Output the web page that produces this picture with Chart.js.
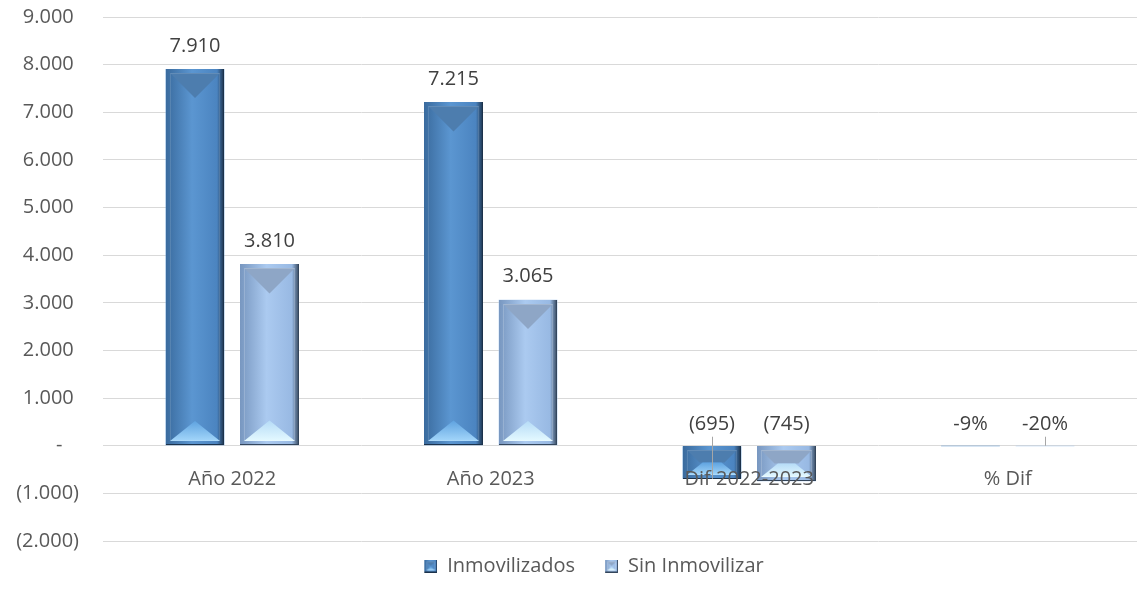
<!DOCTYPE html>
<html lang="es">
<head>
<meta charset="utf-8">
<title>Inmovilizados / Sin Inmovilizar</title>
<script src="https://cdn.jsdelivr.net/npm/chart.js@4.4.1/dist/chart.umd.min.js"></script>
<style>
  html, body { margin: 0; padding: 0; background: #fff; }
  #grafico { display: block; }
</style>
</head>
<body>
<canvas id="grafico" width="1137" height="608"></canvas>
<script>
// datos
var categorias = ['Año 2022', 'Año 2023', 'Dif 2022-2023', '% Dif'];
var inmovilizados = [7910, 7215, -695, -0.09];
var sinInmovilizar = [3810, 3065, -745, -0.20];
var ejeMin = -2000, ejeMax = 9000, ejePaso = 1000;

var fuente = "'Open Sans', 'Noto Sans', sans-serif";
var gris = '#595959';
var tam = 20;

// colores de cada serie (relleno biselado)
var paletas = [
  { izq: '#3a6b9e', centro: '#5b96d1', der: '#4b84c0', sombra: '#1c324b', arriba: '#4d7dae', abajo1: '#5fa3e0', abajo2: '#a3d6fa', marco: 'rgba(255,255,255,0.12)' },
  { izq: '#7897c0', centro: '#abcaf0', der: '#98b9e3', sombra: '#34465c', arriba: '#8ea6c6', abajo1: '#b6dcf7', abajo2: '#e4f9ff', marco: 'rgba(255,255,255,0.18)' }
];

// número con punto de miles y negativos entre paréntesis
function miles(v) {
  var s = String(Math.round(Math.abs(v))).replace(/\B(?=(\d{3})+(?!\d))/g, '.');
  return v < 0 ? '(' + s + ')' : s;
}

function etiquetaValor(v, i) {
  if (categorias[i] === '% Dif') return Math.round(v * 100) + '%';
  return miles(v);
}

// dibuja una barra con bisel (triángulo oscuro arriba, claro abajo)
function dibujarBarra(ctx, l, t, r, b, p, f) {
  var w = r - l, h = b - t;
  ctx.save();
  var g = ctx.createLinearGradient(l, 0, r, 0);
  g.addColorStop(0, p.izq);
  g.addColorStop(0.45, p.centro);
  g.addColorStop(0.88, p.der);
  g.addColorStop(1, p.sombra);
  ctx.fillStyle = g;
  ctx.fillRect(l, t, w, h);

  var il = l + f, ir = r - f, it = t + f, ib = b - f;
  var mitad = (ir - il) / 2;
  var alto = (ib - it) / 2;
  if (mitad > 0 && alto > 0) {
    // bisel superior
    var dy = Math.min(mitad, alto), dx = dy;
    ctx.beginPath();
    ctx.moveTo(il, it);
    ctx.lineTo(ir, it);
    ctx.lineTo(ir - dx, it + dy);
    ctx.lineTo(il + dx, it + dy);
    ctx.closePath();
    ctx.fillStyle = p.arriba;
    ctx.fill();
    // bisel inferior
    var by = Math.min(mitad * 0.8, alto), bx = by / 0.8;
    var gb = ctx.createLinearGradient(0, ib - by, 0, ib);
    gb.addColorStop(0, p.abajo1);
    gb.addColorStop(1, p.abajo2);
    ctx.beginPath();
    ctx.moveTo(il, ib);
    ctx.lineTo(ir, ib);
    ctx.lineTo(ir - bx, ib - by);
    ctx.lineTo(il + bx, ib - by);
    ctx.closePath();
    ctx.fillStyle = gb;
    ctx.fill();
  }
  // marco interior y borde oscuro
  ctx.strokeStyle = p.marco;
  ctx.lineWidth = 1;
  ctx.strokeRect(il + 0.5, it + 0.5, ir - il - 1, ib - it - 1);
  ctx.strokeStyle = p.sombra;
  ctx.beginPath();
  ctx.moveTo(r - 0.5, t);
  ctx.lineTo(r - 0.5, b - 0.5);
  ctx.lineTo(l, b - 0.5);
  ctx.stroke();
  ctx.restore();
}

// marcadores de la leyenda
function marcador(p) {
  var c = document.createElement('canvas');
  c.width = 28; c.height = 13;
  dibujarBarra(c.getContext('2d'), 15, 0, 28, 13, p, 2);
  return c;
}
var marcadores = paletas.map(marcador);

// líneas guía desde la etiqueta hasta la barra
var guias = [{ serie: 0, indice: 2 }, { serie: 1, indice: 3 }];

var barrasPlugin = {
  id: 'barrasBiseladas',
  // la leyenda va algo desplazada a la derecha
  afterLayout: function(chart) {
    if (chart.legend) {
      chart.legend.left += 15;
      chart.legend.right += 15;
    }
  },
  afterDatasetsDraw: function(chart) {
    var ctx = chart.ctx;
    var y0 = chart.scales.y.getPixelForValue(0);
    var posEtiquetas = [];
    chart.data.datasets.forEach(function(ds, di) {
      var meta = chart.getDatasetMeta(di);
      posEtiquetas[di] = [];
      meta.data.forEach(function(bar, i) {
        var p = bar.getProps(['x', 'y', 'base', 'width'], true);
        var l = Math.round(p.x - p.width / 2), r = Math.round(p.x + p.width / 2);
        var t = Math.round(Math.min(p.y, p.base)), b = Math.round(Math.max(p.y, p.base));
        if (b - t >= 3) dibujarBarra(ctx, l, t, r, b, paletas[di], 4);
        var ly = ds.data[i] > 0 ? p.y - 23 : y0 - 21;
        posEtiquetas[di][i] = { x: p.x, y: ly, fin: p.y };
      });
    });

    ctx.save();
    ctx.strokeStyle = '#a6a6a6';
    ctx.lineWidth = 1;
    guias.forEach(function(g) {
      var e = posEtiquetas[g.serie][g.indice];
      ctx.beginPath();
      ctx.moveTo(Math.round(e.x) + 0.5, e.y + 12);
      ctx.lineTo(Math.round(e.x) + 0.5, e.fin);
      ctx.stroke();
    });

    ctx.font = tam + 'px ' + fuente;
    ctx.fillStyle = '#404040';
    ctx.textAlign = 'center';
    ctx.textBaseline = 'middle';
    chart.data.datasets.forEach(function(ds, di) {
      ds.data.forEach(function(v, i) {
        var e = posEtiquetas[di][i];
        ctx.fillText(etiquetaValor(v, i), e.x, e.y);
      });
    });
    ctx.restore();
  }
};

document.addEventListener('DOMContentLoaded', function() {
  var ctx = document.getElementById('grafico').getContext('2d');

  var datos = {
    labels: categorias,
    datasets: [{
      label: 'Inmovilizados',
      data: inmovilizados,
      backgroundColor: paletas[0].centro,
      categoryPercentage: 0.577,
      barPercentage: 0.787
    }, {
      label: 'Sin Inmovilizar',
      data: sinInmovilizar,
      backgroundColor: paletas[1].centro,
      categoryPercentage: 0.577,
      barPercentage: 0.787
    }]
  };

  new Chart(ctx, {
    type: 'bar',
    data: datos,
    plugins: [barrasPlugin],
    options: {
      responsive: false,
      animation: false,
      layout: { padding: { top: 17, right: -6, bottom: 22, left: 0 } },
      scales: {
        x: {
          position: { y: 0 },
          grid: { display: false },
          border: { display: false },
          ticks: { z: 1, padding: 14, color: gris, font: { family: fuente, size: tam } }
        },
        y: {
          min: ejeMin,
          max: ejeMax,
          afterFit: function(scale) { scale.width = 103; },
          grid: { color: '#d9d9d9', drawTicks: true, tickLength: 24, tickColor: 'rgba(0,0,0,0)' },
          border: { display: false },
          ticks: {
            stepSize: ejePaso,
            padding: 0,
            color: gris,
            font: { family: fuente, size: tam },
            callback: function(v) {
              if (v === 0) return '-\u2007 ';
              return v > 0 ? miles(v) + ' ' : miles(v);
            }
          }
        }
      },
      plugins: {
        tooltip: { enabled: false },
        legend: {
          position: 'bottom',
          labels: {
            usePointStyle: true,
            pointStyleWidth: 28,
            padding: 15,
            color: gris,
            font: { family: fuente, size: tam },
            generateLabels: function(chart) {
              var items = Chart.defaults.plugins.legend.labels.generateLabels(chart);
              items.forEach(function(it, k) { it.pointStyle = marcadores[k]; });
              return items;
            }
          }
        }
      }
    }
  });
});
</script>
</body>
</html>
